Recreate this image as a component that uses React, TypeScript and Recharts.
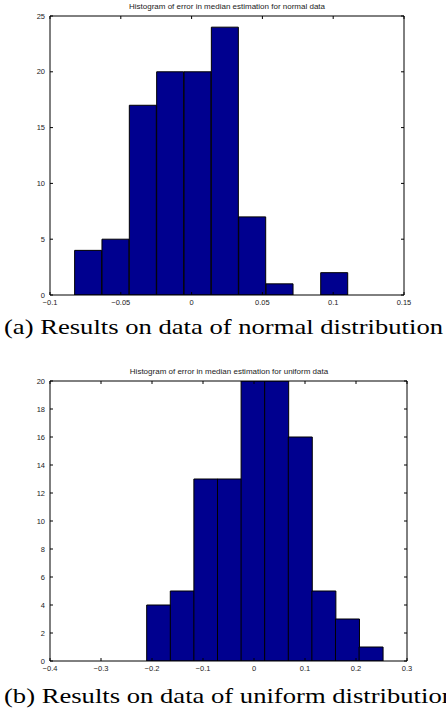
import React from 'react';
import { BarChart, Bar, XAxis, YAxis } from 'recharts';

// (a) normal data: bin centres and counts
const normalBins = [-0.07295, -0.05364, -0.03433, -0.01502, 0.00429, 0.0236, 0.04291, 0.06222, 0.08153, 0.10084];
const normalCounts = [4, 5, 17, 20, 20, 24, 7, 1, 0, 2];
const normalXTicks = [-0.1, -0.05, 0, 0.05, 0.1, 0.15];
const normalYTicks = [0, 5, 10, 15, 20, 25];

// (b) uniform data
const uniformBins = [-0.18727, -0.141, -0.09473, -0.04846, -0.00219, 0.04408, 0.09035, 0.13662, 0.18289, 0.22916];
const uniformCounts = [4, 5, 13, 13, 20, 20, 16, 5, 3, 1];
const uniformXTicks = [-0.4, -0.3, -0.2, -0.1, 0, 0.1, 0.2, 0.3];
const uniformYTicks = [0, 2, 4, 6, 8, 10, 12, 14, 16, 18, 20];

const titles = [
  'Histogram of error in median estimation for normal data',
  'Histogram of error in median estimation for uniform data',
];
const captions = [
  '(a) Results on data of normal distribution',
  '(b) Results on data of uniform distribution',
];

const BAR_FILL = '#00008F';
const SANS = "'Liberation Sans', Arial, sans-serif";
const SERIF = "'Liberation Serif', 'Times New Roman', serif";
const tickStyle = { fontSize: 7.5, fill: '#222', fontFamily: SANS };
const noLabel = () => <g />;
const fmt = (v: number) => String(v).replace('-', '\u2212');
const axisLine = { stroke: '#000', strokeWidth: 1 };

type HistProps = {
  bins: number[];
  counts: number[];
  xTicks: number[];
  yTicks: number[];
  height: number;
  right: number;
};

const Histogram: React.FC<HistProps> = ({ bins, counts, xTicks, yTicks, height, right }) => {
  const data = bins.map((x, i) => ({ x, n: counts[i] }));
  const xDomain = [xTicks[0], xTicks[xTicks.length - 1]];
  const yDomain = [yTicks[0], yTicks[yTicks.length - 1]];
  return (
    <BarChart
      width={446}
      height={height}
      data={data}
      margin={{ top: 15, right, bottom: 0, left: 10 }}
      barCategoryGap={0}
      barGap={0}
    >
      <XAxis
        dataKey="x"
        type="number"
        domain={xDomain}
        ticks={xTicks}
        allowDataOverflow
        height={15}
        axisLine={axisLine}
        tickLine={{ stroke: '#000' }}
        tickSize={-3}
        tickMargin={8}
        tick={tickStyle}
        tickFormatter={fmt}
        interval={0}
      />
      <XAxis
        xAxisId="top"
        dataKey="x"
        type="number"
        orientation="top"
        domain={xDomain}
        ticks={xTicks}
        allowDataOverflow
        height={1}
        axisLine={axisLine}
        tickLine={{ stroke: '#000' }}
        tickSize={-3}
        tick={noLabel}
        interval={0}
      />
      <YAxis
        type="number"
        domain={yDomain}
        ticks={yTicks}
        allowDataOverflow
        width={40}
        axisLine={axisLine}
        tickLine={{ stroke: '#000' }}
        tickSize={-3}
        tickMargin={8}
        tick={tickStyle}
        interval={0}
      />
      <YAxis
        yAxisId="right"
        type="number"
        orientation="right"
        domain={yDomain}
        ticks={yTicks}
        allowDataOverflow
        width={1}
        axisLine={axisLine}
        tickLine={{ stroke: '#000' }}
        tickSize={-3}
        tick={noLabel}
        interval={0}
      />
      <Bar
        dataKey="n"
        fill={BAR_FILL}
        stroke="#000"
        strokeWidth={1}
        isAnimationActive={false}
      />
    </BarChart>
  );
};

export default function App() {
  return (
    <div style={{ position: 'absolute', left: 0, top: 0, width: 446, height: 717, background: '#fff', overflow: 'hidden' }}>
      <div style={{ position: 'absolute', left: 0, top: 0 }}>
        <Histogram
          bins={normalBins}
          counts={normalCounts}
          xTicks={normalXTicks}
          yTicks={normalYTicks}
          height={310}
          right={41}
        />
      </div>
      <div style={{ position: 'absolute', left: 0, top: 365 }}>
        <Histogram
          bins={uniformBins}
          counts={uniformCounts}
          xTicks={uniformXTicks}
          yTicks={uniformYTicks}
          height={311}
          right={38}
        />
      </div>
      <svg
        width={446}
        height={717}
        style={{ position: 'absolute', left: 0, top: 0, pointerEvents: 'none' }}
      >
        <text x={227} y={9} textAnchor="middle" fontSize={8} fill="#222" style={{ fontFamily: SANS }}>
          {titles[0]}
        </text>
        <text x={229} y={374} textAnchor="middle" fontSize={8} fill="#222" style={{ fontFamily: SANS }}>
          {titles[1]}
        </text>
        <text x={4} y={334} fontSize={22} fill="#000" style={{ fontFamily: SERIF }} textLength={439} lengthAdjust="spacingAndGlyphs">
          {captions[0]}
        </text>
        <text x={4} y={703} fontSize={22} fill="#000" style={{ fontFamily: SERIF }} textLength={451} lengthAdjust="spacingAndGlyphs">
          {captions[1]}
        </text>
      </svg>
    </div>
  );
}
